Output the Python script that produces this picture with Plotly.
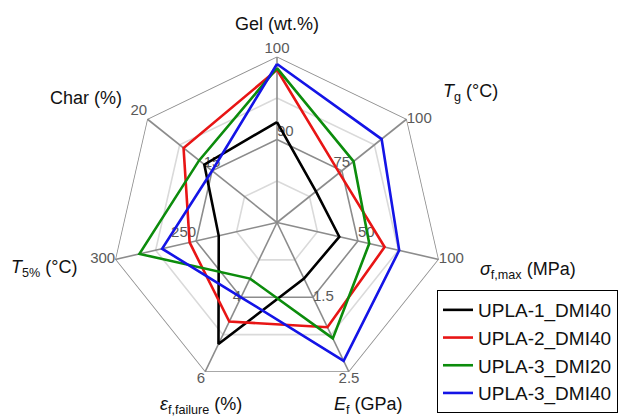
import plotly.graph_objects as go

# Radar axes, clockwise from the top, with each axis' own scale
axes = ["Gel", "Tg", "sigma", "E", "eps", "T5", "Char"]
axis_min = [80, 50, 0, 0.5, 2, 200, 10]
axis_max = [100, 100, 100, 2.5, 6, 300, 20]
mid_labels = ["90", "75", "50", "1.5", "4", "250", "15"]
max_labels = ["100", "100", "100", "2.5", "6", "300", "20"]

# Measured properties (Gel wt.%, Tg °C, sigma MPa, E GPa, eps %, T5% °C, Char %)
upla1_dmi40 = [92.1, 65.0, 38.5, 1.25, 5.25, 236, 15.6]
upla2_dmi40 = [98.4, 74.0, 66.5, 1.90, 4.65, 254, 17.2]
upla3_dmi20 = [98.6, 79.5, 57.0, 2.05, 3.50, 285, 16.0]
upla3_dmi40 = [99.1, 90.3, 75.5, 2.35, 4.00, 271, 15.0]

series = [
    ("UPLA-1_DMI40", upla1_dmi40, "#000000"),
    ("UPLA-2_DMI40", upla2_dmi40, "#e81515"),
    ("UPLA-3_DMI20", upla3_dmi20, "#0c8c0c"),
    ("UPLA-3_DMI40", upla3_dmi40, "#1414e6"),
]

FONT = "Liberation Sans, Arial, sans-serif"
DARK = "#8c8c8c"
LIGHT = "#dadada"
TICK = "#5a5a5a"


def normalise(values):
    return [(v - lo) / (hi - lo) for v, lo, hi in zip(values, axis_min, axis_max)]


closed_theta = axes + axes[:1]
fig = go.Figure()

# Heptagonal grid rings: light at quarter steps, dark at half steps
for level, colour in [(0.25, LIGHT), (0.75, LIGHT), (0.5, DARK), (1.0, DARK)]:
    fig.add_trace(go.Scatterpolar(
        r=[level] * len(closed_theta), theta=closed_theta, mode="lines",
        line=dict(color=colour, width=1.6), hoverinfo="skip",
        showlegend=False, cliponaxis=False))

# Spokes
for a in axes:
    fig.add_trace(go.Scatterpolar(
        r=[0, 1], theta=[a, a], mode="lines",
        line=dict(color=DARK, width=1.6), hoverinfo="skip",
        showlegend=False, cliponaxis=False))

# Scale labels on every axis
fig.add_trace(go.Scatterpolar(
    r=[1.0] * len(axes), theta=axes, mode="text", text=max_labels,
    textposition=["top center", "middle right", "middle right", "bottom center",
                  "bottom left", "middle left", "top left"],
    textfont=dict(family=FONT, size=15, color=TICK),
    hoverinfo="skip", showlegend=False, cliponaxis=False))
fig.add_trace(go.Scatterpolar(
    r=[0.5] * len(axes), theta=axes, mode="text", text=mid_labels,
    textposition=["top right", "top center", "top right", "middle right",
                  "middle left", "top left", "top center"],
    textfont=dict(family=FONT, size=15, color=TICK),
    hoverinfo="skip", showlegend=False, cliponaxis=False))

# Data polygons
for name, vals, colour in series:
    r = normalise(vals)
    fig.add_trace(go.Scatterpolar(
        r=r + r[:1], theta=closed_theta, mode="lines", name=name,
        line=dict(color=colour, width=2.6), cliponaxis=False))

# Axis titles
titles = [
    ("Gel (wt.%)", 277, 24),
    ("<i>T</i><sub>g</sub> (°C)", 470, 92),
    ("<i>σ</i><sub>f,max</sub> (MPa)", 528, 270),
    ("<i>E</i><sub>f</sub> (GPa)", 368, 405),
    ("<i>ε</i><sub>f,failure</sub> (%)", 201, 405),
    ("<i>T</i><sub>5%</sub> (°C)", 44, 268),
    ("Char (%)", 86, 98),
]
W, H = 625, 418
annotations = [
    dict(text=t, x=x / W, y=1 - y / H, xref="paper", yref="paper",
         xanchor="center", yanchor="middle", showarrow=False,
         font=dict(family=FONT, size=18, color="#111111"))
    for t, x, y in titles
]

fig.update_layout(
    width=W, height=H,
    margin=dict(l=0, r=0, t=0, b=0),
    paper_bgcolor="white", plot_bgcolor="white",
    font=dict(family=FONT, size=17, color="#111111"),
    polar=dict(
        domain=dict(x=[111 / W, 443 / W], y=[(H - 222.5 - 166) / H, (H - 222.5 + 166) / H]),
        bgcolor="rgba(0,0,0,0)",
        gridshape="linear",
        angularaxis=dict(type="category", categoryarray=axes, rotation=90,
                         direction="clockwise", visible=False),
        radialaxis=dict(range=[0, 1], visible=False),
    ),
    legend=dict(x=437 / W, y=1 - 290 / H, xanchor="left", yanchor="top",
                bordercolor="#000000", borderwidth=1, bgcolor="white",
                font=dict(family=FONT, size=19, color="#111111"),
                tracegroupgap=0),
    annotations=annotations,
)

fig.write_html("out.html")
